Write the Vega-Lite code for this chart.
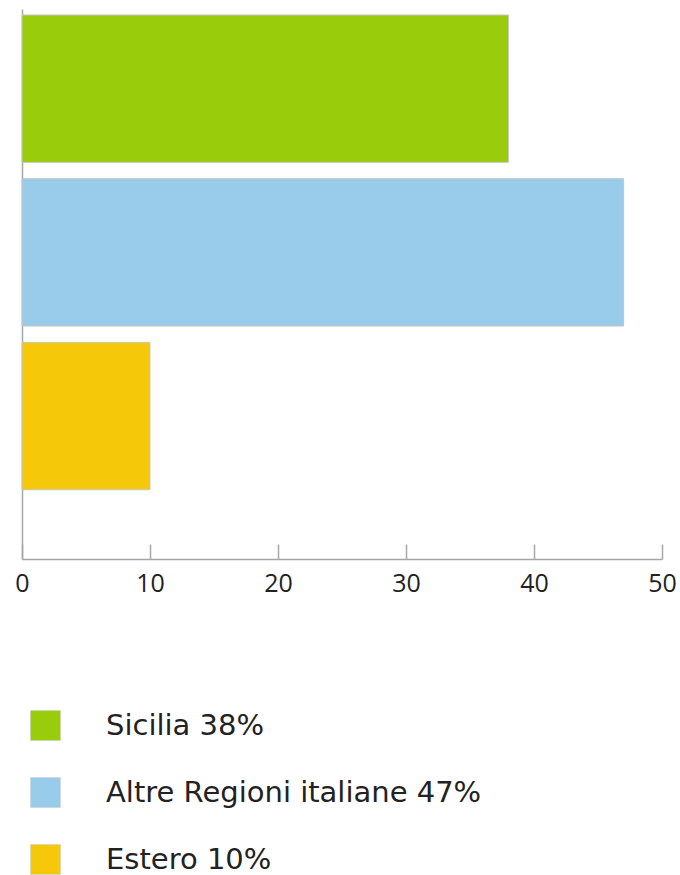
{
  "$schema": "https://vega.github.io/schema/vega-lite/v6.json",
  "width": 640,
  "height": 550,
  "autosize": {"type": "none"},
  "padding": {"top": 9, "left": 22, "right": 18, "bottom": 316},
  "background": "white",
  "config": {"view": {"stroke": null}},
  "data": {
    "values": [
      {"category": "Sicilia", "value": 38, "label": "Sicilia 38%"},
      {"category": "Altre Regioni italiane", "value": 47, "label": "Altre Regioni italiane 47%"},
      {"category": "Estero", "value": 10, "label": "Estero 10%"}
    ]
  },
  "mark": {"type": "bar", "stroke": "#c4c4c4", "strokeWidth": 1},
  "encoding": {
    "y": {
      "field": "category",
      "type": "nominal",
      "sort": null,
      "scale": {"paddingInner": 0.1, "paddingOuter": 0.23, "align": 0.08},
      "axis": {
        "title": null,
        "labels": false,
        "ticks": false,
        "grid": false,
        "domainColor": "#a6a6a6",
        "domainWidth": 1.5
      }
    },
    "x": {
      "field": "value",
      "type": "quantitative",
      "scale": {"domain": [0, 50], "nice": false},
      "axis": {
        "title": null,
        "values": [0, 10, 20, 30, 40, 50],
        "grid": false,
        "domainColor": "#a6a6a6",
        "domainWidth": 1.5,
        "tickColor": "#a6a6a6",
        "tickWidth": 1.5,
        "tickSize": -15,
        "labelPadding": 27,
        "labelFont": "Open Sans",
        "labelFontSize": 25,
        "labelColor": "#222222",
        "labelFlush": false
      }
    },
    "color": {
      "field": "label",
      "type": "nominal",
      "sort": null,
      "scale": {
        "domain": ["Sicilia 38%", "Altre Regioni italiane 47%", "Estero 10%"],
        "range": ["#99CC0A", "#99CBEA", "#F5C80A"]
      },
      "legend": {
        "title": null,
        "orient": "none",
        "legendX": 8,
        "legendY": 701,
        "symbolType": "square",
        "symbolSize": 900,
        "symbolStrokeColor": "#cccccc",
        "symbolStrokeWidth": 0.5,
        "symbolOpacity": 1,
        "labelFont": "DejaVu Sans",
        "labelFontSize": 29,
        "labelColor": "#222222",
        "labelOffset": 45,
        "rowPadding": 34,
        "labelLimit": 600
      }
    }
  }
}
